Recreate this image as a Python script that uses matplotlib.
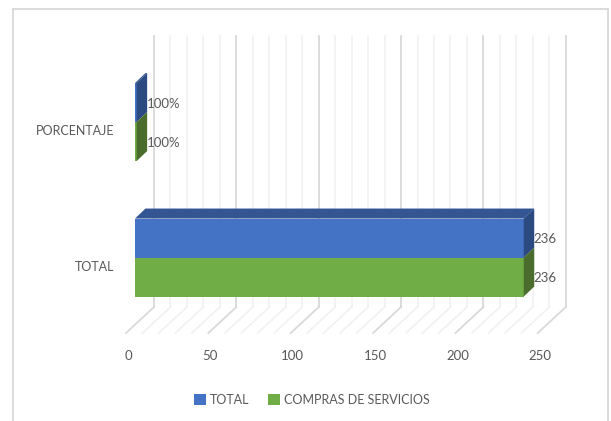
"""Horizontal faux-3D bars: TOTAL / COMPRAS DE SERVICIOS."""
import matplotlib
matplotlib.use("Agg")
import numpy as np
import matplotlib.pyplot as plt
from matplotlib.lines import Line2D
from matplotlib.patches import Polygon

categories = ["TOTAL", "PORCENTAJE"]
series_names = ["TOTAL", "COMPRAS DE SERVICIOS"]
total_values = [236, 1]
compras_values = [236, 1]
bar_labels = ["236", "100%"]
xticks = [0, 50, 100, 150, 200, 250]

plt.rcParams["font.family"] = ["Lato", "DejaVu Sans"]

W, H = 611, 421
TXT = "#595959"
FS = 9.5

fig = plt.figure(figsize=(W / 100, H / 100), dpi=100)
# value 0 at px 135, 250 at px 546.8; axes starts at value -10 so the "0" tick fits
px_x = 250 / (546.8 - 135)
left = 135 - 10 / px_x
ax = fig.add_axes([left / W, 1 - 333 / H, (546.8 - left) / W, (333 - 36) / H])
for s in ax.spines.values():
    s.set_visible(False)

px_y = (1.635 + 0.557) / (333 - 36)


def ypx(p):
    return -0.557 + (333 - p) * px_y


# wall and floor grid
for v in range(0, 251, 10):
    major = v % 50 == 0
    c = "#d9d9d9" if major else "#f0f0f0"
    lw = 1.3 if major else 1.1
    back = v + 19 * px_x
    front = v - 9 * px_x
    ax.plot([back, back], [ypx(36), ypx(307)], color=c, lw=lw, zorder=1, clip_on=False)
    ax.plot([back, front], [ypx(307), ypx(333)], color=c, lw=lw, zorder=1, clip_on=False)

# bars
h = 39 * px_y
y = np.arange(len(categories))
b1 = ax.barh(y + h / 2, total_values, height=h, color="#4472C4", zorder=3, label=series_names[0])
b2 = ax.barh(y - h / 2, compras_values, height=h, color="#70AD47", zorder=3, label=series_names[1])

# depth faces
dx = 10.5 * px_x
dy = 10 * px_y
for yi, vt, vc in zip(y, total_values, compras_values):
    ax.add_patch(Polygon([(0, yi + h), (dx, yi + h + dy), (vt + dx, yi + h + dy), (vt, yi + h)],
                         color="#335593", lw=0, zorder=3))
    ax.add_patch(Polygon([(vt, yi), (vt + dx, yi + dy), (vt + dx, yi + h + dy), (vt, yi + h)],
                         color="#2B4A82", lw=0, zorder=3))
    ax.add_patch(Polygon([(vc, yi - h), (vc + dx, yi - h + dy), (vc + dx, yi + dy), (vc, yi)],
                         color="#4A6C2C", lw=0, zorder=3))

# data labels
for yi, vt, vc, lab in zip(y, total_values, compras_values, bar_labels):
    for v, yy in [(vt, yi + h / 2), (vc, yi - h / 2)]:
        ax.annotate(lab, (v, yy), xytext=(7, -1), textcoords="offset points",
                    ha="left", va="center", fontsize=FS, color=TXT, zorder=4)

# tick labels sit under the front edge of the floor, category labels a bit below bar centre
ax.set_xticks(np.array(xticks) - 7 * px_x, labels=[str(t) for t in xticks])
ax.set_yticks(y - 8 * px_y, labels=categories)
ax.tick_params(axis="x", length=0, pad=12, labelsize=FS, labelcolor=TXT)
ax.tick_params(axis="y", length=0, pad=3.2, labelsize=9, labelcolor=TXT)

# set limits last: set_xticks would widen them
ax.set_xlim(-10, 250)
ax.set_ylim(-0.557, 1.635)

ax.legend(handles=[b1, b2], loc="center", bbox_to_anchor=(312 / W, 1 - 399.5 / H),
          bbox_transform=fig.transFigure, ncol=2, frameon=False, fontsize=9,
          labelcolor=TXT, handlelength=0.95, handleheight=0.95, handletextpad=0.3,
          columnspacing=1.5)

# chart frame (no bottom edge in the crop)
frame = dict(color="#d9d9d9", lw=1.3, transform=fig.transFigure)
fig.add_artist(Line2D([13 / W, 13 / W], [0, 1 - 9 / H], **frame))
fig.add_artist(Line2D([13 / W, 607.5 / W], [1 - 9 / H, 1 - 9 / H], **frame))
fig.add_artist(Line2D([607.5 / W, 607.5 / W], [0, 1 - 9 / H], **frame))

fig.savefig("out.png", dpi=100)
